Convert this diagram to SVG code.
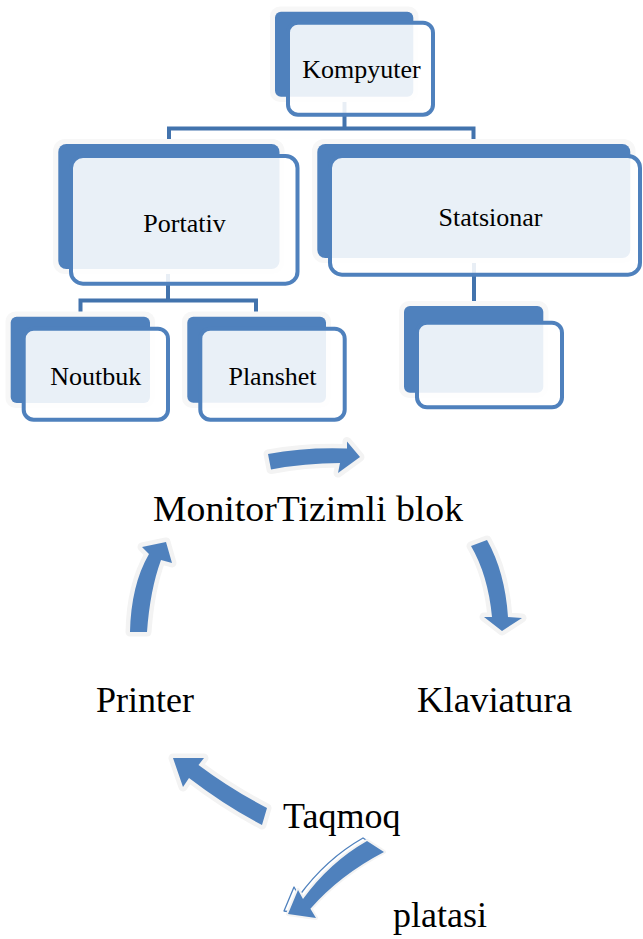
<svg xmlns="http://www.w3.org/2000/svg" xmlns:xlink="http://www.w3.org/1999/xlink" width="643" height="939" viewBox="0 0 643 939">
  <style>
    .halo { fill: #f7f7f7; }
    .back { fill: #4f81bd; }
    .front { fill: #ffffff; fill-opacity: 0.88; stroke: #4f81bd; stroke-width: 4; }
    .conn { stroke: #4273ad; stroke-width: 4; fill: none; }
    .lbl { font-family: "Liberation Serif", "Times New Roman", serif; font-size: 26px; fill: #000; text-anchor: middle; }
    .big { font-family: "Liberation Serif", "Times New Roman", serif; font-size: 36px; fill: #000; }
    .arrow { fill: #4f81bd; }
    .arrow-halo { fill: #f3f3f3; stroke: #f3f3f3; stroke-width: 9; stroke-linejoin: round; }
    .arrow-line { fill: none; stroke: #4f81bd; stroke-width: 1.3; stroke-linejoin: round; }
  </style>
  <defs>
    <!-- curved block arrows of the cycle -->
    <path id="arcTop" d="M 268,454 Q 305,447 347,448.5 L 347,441.5 L 360,457 L 338,473 L 340,463 Q 305,463 271,469.5 Z"/>
    <path id="arcRight" d="M 471,546 Q 488,575 492,617 L 484,617 L 502,631 L 522,618 L 508,617 Q 505,572 487,540 Z"/>
    <path id="arcLeft" d="M 130,632 Q 131,585 149,554 L 142,547 L 166,542 L 172,563 L 161,560 Q 150,590 147,632 Z"/>
    <path id="arcLow" d="M 267,808 Q 230.5,789 198.5,765 L 204,758 L 173,758 L 183,787 L 189,778 Q 225.5,806 262,825 Z"/>
    <path id="arcBottom" d="M 367,841 Q 330,862 303,899 L 298,890 L 288,914 L 316,918 L 310.4,908.7 Q 340,875 384,852 Z"/>
  </defs>

  <rect width="643" height="939" fill="#ffffff"/>

  <!-- hierarchy connectors -->
  <g id="connectors">
    <line class="conn" x1="344.5" y1="96" x2="344.5" y2="128.5"/>
    <polyline class="conn" points="169,145 169,128.5 473.5,128.5 473.5,145"/>
    <line class="conn" x1="168" y1="268" x2="168" y2="300.5"/>
    <polyline class="conn" points="80.5,317 80.5,300.5 256,300.5 256,317"/>
    <line class="conn" x1="474" y1="257" x2="474" y2="306"/>
  </g>

  <g id="node-kompyuter">
    <rect class="halo" x="270" y="6.5" width="148.5" height="95.5" rx="10"/>
    <rect class="back" x="275" y="11.7" width="138.3" height="85" rx="6"/>
    <rect class="front" x="288" y="22.7" width="145" height="92" rx="10"/>
    <text class="lbl" x="361.5" y="78">Kompyuter</text>
  </g>

  <g id="node-portativ">
    <rect class="halo" x="53" y="139" width="231.5" height="135" rx="12"/>
    <rect class="back" x="58.3" y="144" width="221.2" height="125" rx="8"/>
    <rect class="front" x="71" y="156" width="226.5" height="127.7" rx="12"/>
    <text class="lbl" x="184.5" y="231.5">Portativ</text>
  </g>

  <g id="node-statsionar">
    <rect class="halo" x="312" y="139" width="323.5" height="124" rx="12"/>
    <rect class="back" x="317.3" y="144" width="313" height="114" rx="8"/>
    <rect class="front" x="330" y="156" width="310" height="118.7" rx="12"/>
    <text class="lbl" x="490.5" y="226">Statsionar</text>
  </g>

  <g id="node-noutbuk">
    <rect class="halo" x="5.5" y="311.5" width="149.5" height="96.5" rx="10"/>
    <rect class="back" x="10.7" y="316.7" width="139.3" height="86.3" rx="6"/>
    <rect class="front" x="23.7" y="328.7" width="144.3" height="91" rx="10"/>
    <text class="lbl" x="95.8" y="385">Noutbuk</text>
  </g>

  <g id="node-planshet">
    <rect class="halo" x="182" y="311.5" width="149" height="96.5" rx="10"/>
    <rect class="back" x="187.3" y="316.7" width="138.7" height="86" rx="6"/>
    <rect class="front" x="200.3" y="328.7" width="144.4" height="91" rx="10"/>
    <text class="lbl" x="272.5" y="385">Planshet</text>
  </g>

  <g id="node-blank">
    <rect class="halo" x="399" y="301" width="149.5" height="97" rx="10"/>
    <rect class="back" x="404" y="306" width="139.3" height="86.7" rx="6"/>
    <rect class="front" x="417" y="322.7" width="145" height="84.6" rx="10"/>
  </g>

  <!-- cycle labels -->
  <g id="cycle-labels">
    <text class="big" x="153" y="521" textLength="310" lengthAdjust="spacingAndGlyphs">MonitorTizimli blok</text>
    <text class="big" x="417" y="712" textLength="155" lengthAdjust="spacingAndGlyphs">Klaviatura</text>
    <text class="big" x="96" y="712">Printer</text>
    <text class="big" x="283" y="828">Taqmoq</text>
    <text class="big" x="393" y="927">platasi</text>
  </g>

  <!-- cycle arrows -->
  <g id="cycle-arrows">
    <use xlink:href="#arcTop" class="arrow-halo"/>
    <use xlink:href="#arcTop" class="arrow"/>
    <use xlink:href="#arcRight" class="arrow-halo"/>
    <use xlink:href="#arcRight" class="arrow"/>
    <use xlink:href="#arcLeft" class="arrow-halo"/>
    <use xlink:href="#arcLeft" class="arrow"/>
    <use xlink:href="#arcLow" class="arrow-halo"/>
    <use xlink:href="#arcLow" class="arrow"/>
    <use xlink:href="#arcBottom" class="arrow-line" transform="translate(-4,-3)"/>
    <use xlink:href="#arcBottom" class="arrow-halo" style="stroke-width:4"/>
    <use xlink:href="#arcBottom" class="arrow"/>
  </g>
</svg>
